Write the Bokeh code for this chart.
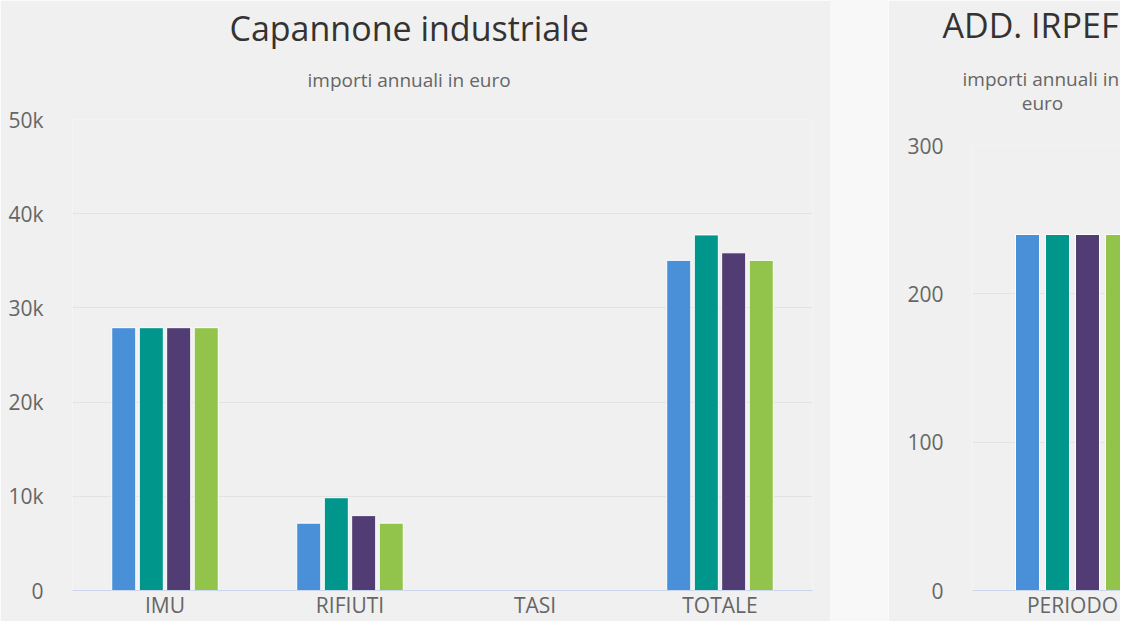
from bokeh.plotting import figure
from bokeh.models import (ColumnDataSource, FactorRange, Range1d, FixedTicker, Title, Div)
from bokeh.transform import dodge
from bokeh.layouts import row
from bokeh.embed import file_html
from bokeh.resources import INLINE

# ---------------- data ----------------
categories = ["IMU", "RIFIUTI", "TASI", "TOTALE"]
series_names = ["Serie 1", "Serie 2", "Serie 3", "Serie 4"]
serie1 = [27900, 7150, 0, 35050]
serie2 = [27900, 9850, 0, 37750]
serie3 = [27900, 7950, 0, 35850]
serie4 = [27900, 7150, 0, 35050]
left_ticks = [0, 10000, 20000, 30000, 40000, 50000]
left_tick_labels = ["0", "10k", "20k", "30k", "40k", "50k"]
left_title = "Capannone industriale"
left_subtitle = "importi annuali in euro"

irpef_categories = ["PERIODO"]
irpef1 = [240]
irpef2 = [240]
irpef3 = [240]
irpef4 = [240]
right_ticks = [0, 100, 200, 300]
right_tick_labels = ["0", "100", "200", "300"]
right_title = "ADD. IRPEF"
right_subtitle = "importi annuali in\n" + "\u00a0" * 12 + "euro"

colors = ["#4a90d9", "#00968c", "#513c74", "#92c34a"]

FONT = "Open Sans"
BG = "#f0f0f0"
H = 621


def style(p, ticks, labels):
    p.background_fill_color = BG
    p.border_fill_color = BG
    p.outline_line_color = None
    p.xgrid.grid_line_color = None
    p.ygrid.grid_line_color = "#e3e3e3"
    p.ygrid.grid_line_width = 1
    p.yaxis.ticker = FixedTicker(ticks=ticks)
    p.yaxis.major_label_overrides = {t: l for t, l in zip(ticks, labels)}
    p.yaxis.axis_line_color = None
    p.yaxis.major_tick_line_color = None
    p.yaxis.minor_tick_line_color = None
    p.yaxis.major_tick_out = 0
    p.yaxis.major_tick_in = 0
    p.yaxis.major_label_standoff = 29
    p.yaxis.major_label_text_font = FONT
    p.yaxis.major_label_text_font_size = "21px"
    p.yaxis.major_label_text_color = "#666666"
    p.xaxis.axis_line_color = "#ccd6eb"
    p.xaxis.axis_line_width = 1
    p.xaxis.major_tick_line_color = None
    p.xaxis.minor_tick_line_color = None
    p.xaxis.major_tick_out = 0
    p.xaxis.major_tick_in = 0
    p.xaxis.major_label_standoff = 0
    p.xaxis.major_label_text_font = FONT
    p.xaxis.major_label_text_font_size = "21px"
    p.xaxis.major_label_text_color = "#666666"
    p.frame_align = False


def title(text, size, color, offset, standoff, valign="bottom", lh=1.0):
    return Title(text=text, align="left", offset=offset, text_font=FONT,
                 text_font_size=size, text_font_style="normal",
                 text_color=color, standoff=standoff, vertical_align=valign,
                 text_line_height=lh)


def gap_above(p, px):
    # blank title used only as vertical spacing between frame and subtitle
    p.add_layout(Title(text=" ", text_font_size="1px", standoff=px), "above")


# ---------------- left chart ----------------
src = ColumnDataSource(dict(cat=categories, s1=serie1, s2=serie2, s3=serie3, s4=serie4,
                            a1=[1 if v else 0 for v in serie1],
                            a2=[1 if v else 0 for v in serie2],
                            a3=[1 if v else 0 for v in serie3],
                            a4=[1 if v else 0 for v in serie4]))

p1 = figure(x_range=FactorRange(*categories), y_range=Range1d(0, left_ticks[-1]),
            width=830, height=H, output_backend="svg", toolbar_location=None,
            min_border_left=72, min_border_right=18, min_border_top=119,
            min_border_bottom=30, title=None)
offsets_l = [-0.223, -0.074, 0.074, 0.223]
for i, (col, acol) in enumerate([("s1", "a1"), ("s2", "a2"), ("s3", "a3"), ("s4", "a4")]):
    p1.vbar(x=dodge("cat", offsets_l[i], range=p1.x_range), top=col, width=0.13,
            source=src, fill_color=colors[i], line_color="white", line_alpha=acol,
            line_width=1)
style(p1, left_ticks, left_tick_labels)
gap_above(p1, 11)
p1.add_layout(title(left_subtitle, "19px", "#666666", 235, 25), "above")
p1.add_layout(title(left_title, "34px", "#333333", 157, 0, "top"), "above")

# ---------------- spacer ----------------
gap = Div(text="", width=58, height=H, margin=0,
          styles={"background-color": "#f8f8f8"})

# ---------------- right chart ----------------
src2 = ColumnDataSource(dict(x=list(range(len(irpef_categories))),
                             s1=irpef1, s2=irpef2, s3=irpef3, s4=irpef4))
p2 = figure(x_range=Range1d(-0.5, 0.24), y_range=Range1d(0, right_ticks[-1]),
            width=232, height=H, output_backend="svg", toolbar_location=None,
            min_border_left=84, min_border_right=0, min_border_top=145,
            min_border_bottom=30, title=None)
offsets_r = [-0.225, -0.075, 0.075, 0.225]
for i, col in enumerate(["s1", "s2", "s3", "s4"]):
    p2.vbar(x=dodge("x", offsets_r[i]), top=col, width=0.12, source=src2,
            fill_color=colors[i], line_color="white", line_width=1)
style(p2, right_ticks, right_tick_labels)
p2.xaxis.ticker = FixedTicker(ticks=list(range(len(irpef_categories))))
p2.xaxis.major_label_overrides = {i: c for i, c in enumerate(irpef_categories)}
gap_above(p2, 12)
p2.add_layout(title(right_subtitle, "19px", "#666666", -10, 28, lh=0.95), "above")
p2.add_layout(title(right_title, "34px", "#333333", -30, 0, "top"), "above")

layout = row(p1, gap, p2)
open("out.html", "w").write(file_html(layout, INLINE))
